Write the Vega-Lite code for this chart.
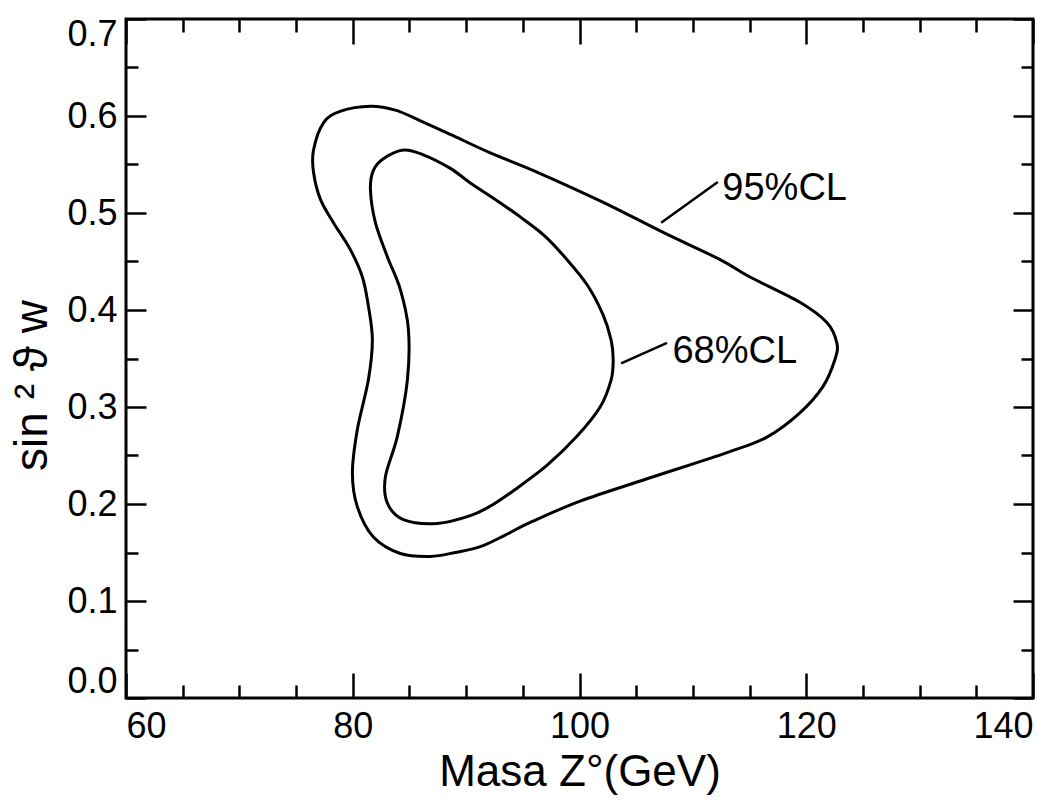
{
  "$schema": "https://vega.github.io/schema/vega-lite/v6.json",
  "width": 907,
  "height": 679,
  "autosize": "none",
  "padding": {"left": 126, "top": 19, "right": 10, "bottom": 111},
  "background": "white",
  "config": {
    "view": {"stroke": "black", "strokeWidth": 3},
    "axis": {
      "domain": false,
      "grid": false,
      "tickColor": "black",
      "tickWidth": 2.5,
      "labelColor": "black",
      "labelFont": "Liberation Sans",
      "labelFontSize": 36,
      "titleFont": "Liberation Sans",
      "titleFontWeight": "normal",
      "titleColor": "black"
    }
  },
  "datasets": {
    "contours": [
      {"series": "95%", "order": 1, "x": 81.56, "y": 0.610},
      {"series": "95%", "order": 2, "x": 83.76, "y": 0.606},
      {"series": "95%", "order": 3, "x": 85.97, "y": 0.595},
      {"series": "95%", "order": 4, "x": 88.61, "y": 0.581},
      {"series": "95%", "order": 5, "x": 92.13, "y": 0.562},
      {"series": "95%", "order": 6, "x": 96.29, "y": 0.542},
      {"series": "95%", "order": 7, "x": 102.10, "y": 0.511},
      {"series": "95%", "order": 8, "x": 107.38, "y": 0.480},
      {"series": "95%", "order": 9, "x": 112.40, "y": 0.452},
      {"series": "95%", "order": 10, "x": 115.04, "y": 0.434},
      {"series": "95%", "order": 11, "x": 119.44, "y": 0.408},
      {"series": "95%", "order": 12, "x": 121.82, "y": 0.387},
      {"series": "95%", "order": 13, "x": 122.70, "y": 0.366},
      {"series": "95%", "order": 14, "x": 122.53, "y": 0.349},
      {"series": "95%", "order": 15, "x": 121.47, "y": 0.321},
      {"series": "95%", "order": 16, "x": 119.44, "y": 0.294},
      {"series": "95%", "order": 17, "x": 116.53, "y": 0.269},
      {"series": "95%", "order": 18, "x": 113.01, "y": 0.253},
      {"series": "95%", "order": 19, "x": 105.96, "y": 0.226},
      {"series": "95%", "order": 20, "x": 100.06, "y": 0.203},
      {"series": "95%", "order": 21, "x": 95.65, "y": 0.181},
      {"series": "95%", "order": 22, "x": 93.46, "y": 0.168},
      {"series": "95%", "order": 23, "x": 91.25, "y": 0.156},
      {"series": "95%", "order": 24, "x": 89.04, "y": 0.150},
      {"series": "95%", "order": 25, "x": 86.84, "y": 0.146},
      {"series": "95%", "order": 26, "x": 84.20, "y": 0.149},
      {"series": "95%", "order": 27, "x": 81.82, "y": 0.166},
      {"series": "95%", "order": 28, "x": 80.41, "y": 0.197},
      {"series": "95%", "order": 29, "x": 79.97, "y": 0.232},
      {"series": "95%", "order": 30, "x": 80.41, "y": 0.277},
      {"series": "95%", "order": 31, "x": 81.38, "y": 0.328},
      {"series": "95%", "order": 32, "x": 81.73, "y": 0.369},
      {"series": "95%", "order": 33, "x": 81.38, "y": 0.404},
      {"series": "95%", "order": 34, "x": 80.85, "y": 0.434},
      {"series": "95%", "order": 35, "x": 79.80, "y": 0.462},
      {"series": "95%", "order": 36, "x": 78.30, "y": 0.490},
      {"series": "95%", "order": 37, "x": 77.15, "y": 0.514},
      {"series": "95%", "order": 38, "x": 76.54, "y": 0.542},
      {"series": "95%", "order": 39, "x": 76.54, "y": 0.565},
      {"series": "95%", "order": 40, "x": 77.42, "y": 0.593},
      {"series": "95%", "order": 41, "x": 78.94, "y": 0.605},
      {"series": "68%", "order": 1, "x": 84.47, "y": 0.565},
      {"series": "68%", "order": 2, "x": 86.23, "y": 0.560},
      {"series": "68%", "order": 3, "x": 88.61, "y": 0.546},
      {"series": "68%", "order": 4, "x": 90.37, "y": 0.531},
      {"series": "68%", "order": 5, "x": 92.57, "y": 0.514},
      {"series": "68%", "order": 6, "x": 94.77, "y": 0.496},
      {"series": "68%", "order": 7, "x": 96.97, "y": 0.476},
      {"series": "68%", "order": 8, "x": 98.74, "y": 0.454},
      {"series": "68%", "order": 9, "x": 100.67, "y": 0.426},
      {"series": "68%", "order": 10, "x": 102.08, "y": 0.395},
      {"series": "68%", "order": 11, "x": 102.79, "y": 0.369},
      {"series": "68%", "order": 12, "x": 102.97, "y": 0.349},
      {"series": "68%", "order": 13, "x": 102.79, "y": 0.328},
      {"series": "68%", "order": 14, "x": 101.82, "y": 0.300},
      {"series": "68%", "order": 15, "x": 99.79, "y": 0.270},
      {"series": "68%", "order": 16, "x": 97.15, "y": 0.240},
      {"series": "68%", "order": 17, "x": 94.33, "y": 0.215},
      {"series": "68%", "order": 18, "x": 92.31, "y": 0.199},
      {"series": "68%", "order": 19, "x": 90.37, "y": 0.188},
      {"series": "68%", "order": 20, "x": 87.46, "y": 0.180},
      {"series": "68%", "order": 21, "x": 84.46, "y": 0.184},
      {"series": "68%", "order": 22, "x": 83.05, "y": 0.201},
      {"series": "68%", "order": 23, "x": 82.88, "y": 0.228},
      {"series": "68%", "order": 24, "x": 83.94, "y": 0.270},
      {"series": "68%", "order": 25, "x": 84.82, "y": 0.328},
      {"series": "68%", "order": 26, "x": 84.91, "y": 0.380},
      {"series": "68%", "order": 27, "x": 84.20, "y": 0.421},
      {"series": "68%", "order": 28, "x": 83.05, "y": 0.455},
      {"series": "68%", "order": 29, "x": 82.00, "y": 0.490},
      {"series": "68%", "order": 30, "x": 81.56, "y": 0.524},
      {"series": "68%", "order": 31, "x": 81.82, "y": 0.544},
      {"series": "68%", "order": 32, "x": 82.70, "y": 0.556}
    ],
    "labels": [
      {"label": "95%CL", "tx": 112.6, "ty": 0.525, "x1": 107.2, "y1": 0.490, "x2": 112.2, "y2": 0.532},
      {"label": "68%CL", "tx": 108.2, "ty": 0.357, "x1": 103.67, "y1": 0.345, "x2": 107.72, "y2": 0.366}
    ]
  },
  "resolve": {"axis": {"x": "independent", "y": "independent"}},
  "layer": [
    {
      "data": {"name": "contours"},
      "transform": [{"filter": "datum.series == '95%'"}],
      "mark": {"type": "line", "interpolate": "cardinal-closed", "stroke": "black", "strokeWidth": 3},
      "encoding": {
        "x": {"field": "x", "type": "quantitative",
              "scale": {"domain": [60, 140], "nice": false, "zero": false},
              "axis": {"orient": "bottom", "values": [60, 80, 100, 120, 140], "tickSize": -25,
                       "labelPadding": 36, "labelFlush": true, "title": "Masa Z°(GeV)", "titleFontSize": 44, "titlePadding": 6}},
        "y": {"field": "y", "type": "quantitative",
              "scale": {"domain": [0, 0.7], "nice": false, "zero": false},
              "axis": {"orient": "left", "values": [0, 0.1, 0.2, 0.3, 0.4, 0.5, 0.6, 0.7], "format": ".1f",
                       "tickSize": -20, "labelPadding": 29, "labelFlush": true, "labelFlushOffset": 2,
                       "title": "sin ² ϑ w", "titleFontSize": 46,
                       "titlePadding": 10, "titleY": 366}},
        "order": {"field": "order", "type": "quantitative"}
      }
    },
    {
      "data": {"name": "contours"},
      "transform": [{"filter": "datum.series == '68%'"}],
      "mark": {"type": "line", "interpolate": "cardinal-closed", "stroke": "black", "strokeWidth": 3},
      "encoding": {
        "x": {"field": "x", "type": "quantitative",
              "scale": {"domain": [60, 140], "nice": false, "zero": false},
              "axis": {"orient": "bottom", "values": [65, 70, 75, 85, 90, 95, 105, 110, 115, 125, 130, 135],
                       "tickSize": -13, "labels": false, "title": null}},
        "y": {"field": "y", "type": "quantitative",
              "scale": {"domain": [0, 0.7], "nice": false, "zero": false},
              "axis": {"orient": "left", "values": [0.05, 0.15, 0.25, 0.35, 0.45, 0.55, 0.65],
                       "tickSize": -12, "labels": false, "title": null}},
        "order": {"field": "order", "type": "quantitative"}
      }
    },
    {
      "data": {"name": "labels"},
      "mark": {"type": "rule", "stroke": "black", "strokeWidth": 2.5},
      "encoding": {
        "x": {"field": "x1", "type": "quantitative",
              "scale": {"domain": [60, 140], "nice": false, "zero": false},
              "axis": {"orient": "top", "values": [60, 80, 100, 120, 140], "tickSize": -25, "labels": false, "title": null}},
        "y": {"field": "y1", "type": "quantitative",
              "scale": {"domain": [0, 0.7], "nice": false, "zero": false},
              "axis": {"orient": "right", "values": [0, 0.1, 0.2, 0.3, 0.4, 0.5, 0.6, 0.7], "tickSize": -20, "labels": false, "title": null}},
        "x2": {"field": "x2"},
        "y2": {"field": "y2"}
      }
    },
    {
      "data": {"name": "labels"},
      "mark": {"type": "text", "align": "left", "baseline": "middle", "font": "Liberation Sans", "fontSize": 38, "color": "black"},
      "encoding": {
        "x": {"field": "tx", "type": "quantitative",
              "scale": {"domain": [60, 140], "nice": false, "zero": false},
              "axis": {"orient": "top", "values": [65, 70, 75, 85, 90, 95, 105, 110, 115, 125, 130, 135],
                       "tickSize": -13, "labels": false, "title": null}},
        "y": {"field": "ty", "type": "quantitative",
              "scale": {"domain": [0, 0.7], "nice": false, "zero": false},
              "axis": {"orient": "right", "values": [0.05, 0.15, 0.25, 0.35, 0.45, 0.55, 0.65],
                       "tickSize": -12, "labels": false, "title": null}},
        "text": {"field": "label"}
      }
    }
  ]
}
